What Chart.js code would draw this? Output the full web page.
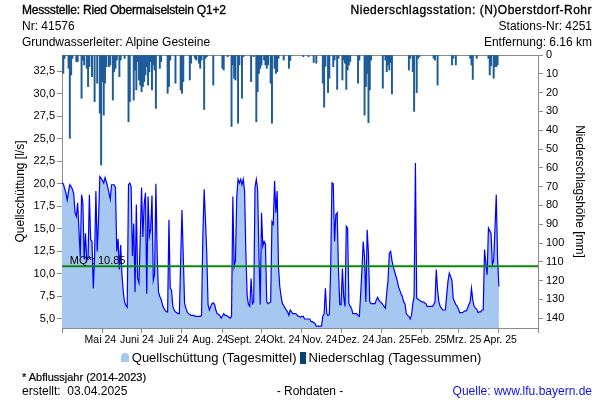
<!DOCTYPE html>
<html lang="de">
<head>
  <meta charset="UTF-8" />
  <title>Quellschüttung Ried Obermaiselstein Q1+2</title>
  <!-- Chart.js CDN -->
  <script src="https://cdn.jsdelivr.net/npm/chart.js@4"></script>
  <style>
    body { margin: 0; background: #fff; font-family: "Liberation Sans", Arial, sans-serif; }
    #wrap { position: relative; width: 600px; height: 400px; }
    #chart { position: absolute; left: 0; top: 0; }
    .t { position: absolute; font-size: 12px; line-height: 14px; color: #000; white-space: nowrap; }
    .r { right: 8px; text-align: right; }
    .h1 { -webkit-text-stroke: 0.35px #000; }
    .mtn { display: inline-block; width: 8px; height: 9px; background: #a6c8f0; border-radius: 4px 4px 0 0; margin-right: 3px; }
    .sq { display: inline-block; width: 6px; height: 12px; background: #0b3f78; vertical-align: -2px; margin: 0 3px 0 3px; }
  </style>
</head>
<body>
<div id="wrap">
  <canvas id="chart" width="600" height="400"></canvas>

  <!-- Kopfzeilen -->
  <div class="t h1" style="left:22px;top:3px;letter-spacing:-0.2px">Messstelle: Ried Obermaiselstein Q1+2</div>
  <div class="t" style="left:22px;top:19px">Nr: 41576</div>
  <div class="t" style="left:22px;top:35px">Grundwasserleiter: Alpine Gesteine</div>
  <div class="t r h1" style="top:3px;letter-spacing:0.5px">Niederschlagsstation: (N)Oberstdorf-Rohr</div>
  <div class="t r" style="top:19px">Stations-Nr: 4251</div>
  <div class="t r" style="top:35px">Entfernung: 6.16 km</div>

  <!-- Legende + Fußzeilen -->
  <div class="t" style="left:0;width:602px;top:351px;text-align:center;font-size:13px">
    <span class="mtn"></span>Quellschüttung (Tagesmittel)<span class="sq"></span>Niederschlag (Tagessummen)
  </div>
  <div class="t h1" style="left:22px;top:370px;font-size:11px;-webkit-text-stroke:0.2px #000">* Abflussjahr (2014-2023)</div>
  <div class="t" style="left:22px;top:384px">erstellt:&nbsp; 03.04.2025</div>
  <div class="t" style="left:0;width:620px;top:384px;text-align:center">- Rohdaten -</div>
  <div class="t r" style="top:384px;color:#1010ee">Quelle: www.lfu.bayern.de</div>
</div>

<script>
  // Monatsachse (Tag 0 = 1. Mai 2024)
  const monthStarts = [0, 31, 61, 92, 123, 153, 184, 214, 245, 276, 304, 335, 365];
  const monthLabels = ["Mai 24", "Juni 24", "Juli 24", "Aug. 24", "Sept. 24", "Okt. 24",
                       "Nov. 24", "Dez. 24", "Jan. 25", "Feb. 25", "Mrz. 25", "Apr. 25"];
  const leftTicks = [5, 7.5, 10, 12.5, 15, 17.5, 20, 22.5, 25, 27.5, 30, 32.5];
  const rightTicks = [0, 10, 20, 30, 40, 50, 60, 70, 80, 90, 100, 110, 120, 130, 140];

  // mittlere Quellschüttung MQ* [l/s]
  const mq = 10.85;

  // Quellschüttung Tagesmittel [l/s], ab 01.05.2024
  const discharge = [
    // Mai
    20.1, 20.0, 19.5, 19.0, 18.2, 19.2, 19.9, 19.7, 19.4, 18.9, 16.8, 16.4, 17.9, 14.9, 11.9, 18.8,
    17.9, 11.6, 14.5, 11.5, 11.9, 18.8, 13.8, 13.6, 8.4, 12.0, 19.2, 12.5, 16.0, 20.8, 20.6,
    // Juni
    20.4, 20.1, 20.7, 20.2, 19.7, 19.0, 18.3, 19.9, 19.9, 19.9, 19.6, 12.5, 13.9, 10.5, 13.2,
    9.9, 8.0, 6.9, 6.5, 6.3, 19.9, 20.1, 19.7, 12.0, 15.6, 8.0, 17.7, 9.5, 9.0, 14.0,
    // Juli
    19.6, 14.1, 17.7, 19.0, 7.8, 18.6, 14.2, 15.0, 18.7, 9.3, 10.0, 20.0, 12.0, 8.0, 7.5, 7.2,
    6.6, 6.2, 6.0, 5.8, 5.8, 16.0, 8.4, 8.2, 6.4, 6.0, 5.8, 5.7, 5.6, 5.6, 11.5,
    // Aug.
    17.1, 11.9, 6.7, 6.2, 5.8, 5.6, 5.5, 5.4, 5.4, 5.4, 5.3, 5.3, 5.3, 5.3, 5.3, 5.4,
    14.2, 19.4, 16.0, 12.3, 6.6, 6.0, 6.4, 6.7, 6.8, 6.6, 6.0, 5.6, 5.5, 5.4, 5.1,
    // Sept.
    5.3, 5.6, 5.4, 5.4, 5.3, 5.2, 5.1, 5.3, 18.6, 10.8, 11.5, 18.6, 20.5, 20.1, 20.5,
    19.9, 20.5, 19.2, 12.3, 7.5, 6.6, 6.4, 9.5, 6.7, 6.9, 19.6, 20.5, 19.4, 12.3, 6.6,
    // Okt.
    16.8, 13.1, 13.6, 13.3, 6.9, 6.7, 6.8, 6.9, 15.8, 15.5, 20.3, 16.8, 19.2, 10.8, 8.6, 7.5,
    6.7, 6.5, 6.2, 6.0, 5.8, 5.4, 6.0, 5.8, 5.6, 5.6, 5.6, 5.5, 5.3, 5.3, 5.2,
    // Nov.
    5.3, 5.3, 5.0, 5.0, 5.0, 5.0, 5.0, 4.7, 4.7, 4.6, 4.5, 4.2, 4.2, 4.2, 4.2,
    4.2, 5.3, 5.6, 8.4, 5.6, 5.4, 5.5, 10.5, 20.1, 20.0, 13.6, 16.6, 16.8, 10.5, 6.6,
    // Dez.
    6.6, 10.6, 7.5, 6.4, 15.3, 15.1, 6.7, 6.4, 6.2, 5.6, 5.6, 5.6, 5.6, 5.4, 5.3, 7.7,
    10.5, 13.6, 11.8, 6.9, 14.9, 12.3, 6.9, 6.7, 6.7, 6.7, 6.7, 7.1, 7.4, 7.1, 6.9,
    // Jan.
    6.8, 6.6, 6.4, 6.2, 7.9, 9.3, 12.3, 12.5, 11.5, 10.8, 10.3, 9.8, 9.3, 8.6, 8.2, 7.8,
    7.5, 6.9, 6.7, 5.6, 5.4, 5.3, 5.0, 5.4, 6.7, 7.5, 22.3, 7.3, 7.2, 7.1, 7.0,
    // Feb.
    6.9, 6.9, 6.8, 6.7, 6.4, 6.4, 6.4, 6.4, 6.4, 6.6, 6.9, 10.5, 8.2, 6.9,
    6.4, 6.2, 6.0, 6.0, 6.0, 7.7, 9.2, 10.1, 9.7, 9.3, 7.3, 6.9, 6.6, 6.4,
    // Mrz.
    6.1, 5.7, 5.7, 5.7, 5.8, 5.9, 5.9, 6.2, 6.6, 6.9, 8.4, 7.1, 6.4, 6.2, 6.1, 5.7,
    5.8, 5.8, 6.0, 6.0, 12.7, 11.2, 9.9, 15.1, 14.8, 14.5, 11.0, 11.5, 15.0, 18.8, 11.7,
    // Apr.
    8.6
  ];

  // Niederschlag Tagessummen [mm]: [Tag, mm]
  const precipitation = [
    [1, 9.8], [2, 1.8], [5, 7.1], [6, 44.3], [7, 10.6], [8, 1.8], [11, 3.5], [12, 3.5],
    [15, 23], [16, 2.7], [17, 5.3], [19, 7.1], [20, 16.8], [21, 6.2], [23, 11.5], [25, 24.8],
    [27, 15], [29, 31], [30, 58.5], [31, 14.2], [32, 32], [33, 15], [34, 6.2], [36, 6.2],
    [37, 5.3], [39, 24], [40, 8.9], [41, 7.1], [42, 2.7], [44, 11.5], [45, 2.7], [48, 1.8],
    [51, 35.5], [52, 24.8], [55, 24], [56, 8], [57, 18.6], [58, 3.5], [59, 13.3], [60, 16],
    [61, 19.5], [62, 16.8], [63, 14.2], [64, 10.6], [65, 6.2], [66, 16], [67, 8.9], [68, 3.5],
    [69, 18.6], [70, 5.3], [71, 8], [72, 28.4], [75, 7.1], [76, 3.5], [81, 20.4], [82, 16.8],
    [83, 2.7], [87, 15], [91, 18.6], [92, 20.4], [93, 14.2], [98, 13.3], [99, 4.4], [102, 1.8],
    [103, 2.7], [105, 4.4], [106, 7.1], [107, 2.7], [109, 29], [110, 1.8], [111, 0.9], [116, 16],
    [123, 7.1], [124, 8], [127, 0.9], [130, 38], [131, 5.3], [132, 12.4], [133, 13.3], [135, 36.3],
    [136, 5.3], [138, 23], [139, 0.9], [145, 14.2], [147, 0.9], [149, 35.5], [150, 19.5], [151, 9.8],
    [152, 7.1], [153, 5.3], [155, 2.7], [156, 5.3], [157, 7.1], [158, 5.3], [160, 15], [161, 36.3],
    [163, 7.1], [164, 9.8], [165, 8.9], [166, 1.8], [170, 2.7], [174, 7.1], [175, 3], [185, 0.9],
    [189, 0.9], [193, 4], [195, 4.4], [200, 15], [201, 27.8], [202, 6], [204, 20], [205, 12.4],
    [208, 6.2], [209, 2.7], [211, 18.3], [212, 1.8], [215, 13.3], [216, 2.7], [217, 4.4], [218, 18.3],
    [219, 8], [220, 5.3], [221, 3.5], [227, 15], [228, 2.7], [232, 32], [233, 16.8], [234, 9.8],
    [235, 36], [236, 18.6], [237, 2.7], [246, 17.7], [248, 2.7], [249, 8.9], [250, 5.3], [251, 8],
    [252, 4], [253, 20.7], [266, 8], [267, 1.8], [269, 8.9], [270, 30], [272, 20], [273, 1.8],
    [274, 0.9], [285, 1.8], [286, 2.7], [288, 16], [299, 5.3], [300, 1.8], [302, 5.3], [313, 1.8],
    [314, 5.3], [315, 13], [318, 1.8], [327, 1.8], [328, 10.6], [329, 5.8], [331, 12.4], [332, 6.2],
    [333, 6.2], [334, 5.3]
  ];

  const monthMids = monthLabels.map((_, i) => (monthStarts[i] + monthStarts[i + 1]) / 2);
  const FONT = '"Liberation Sans", Arial, sans-serif';
  const GRAY = '#8c8c8c';

  // MQ-Beschriftung und obere Rahmenlinie
  const extras = {
    id: 'extras',
    beforeDatasetsDraw(chart) {
      const { ctx, chartArea } = chart;
      ctx.save();
      ctx.strokeStyle = GRAY;
      ctx.lineWidth = 1;
      ctx.beginPath();
      ctx.moveTo(chartArea.left, chartArea.top + 0.5);
      ctx.lineTo(chartArea.right, chartArea.top + 0.5);
      ctx.stroke();
      ctx.restore();
    },
    afterDatasetsDraw(chart) {
      const { ctx, scales: { x, y } } = chart;
      ctx.save();
      ctx.font = '11px ' + FONT;
      ctx.fillStyle = '#000';
      ctx.textBaseline = 'alphabetic';
      ctx.fillText('MQ*: ' + mq.toFixed(2), x.getPixelForValue(6), y.getPixelForValue(mq) - 2);
      ctx.restore();
    }
  };

  new Chart(document.getElementById('chart'), {
    type: 'bar',
    data: {
      datasets: [
        {
          type: 'line',
          label: 'MQ*',
          data: [{ x: 0, y: mq }, { x: 365, y: mq }],
          borderColor: '#0a8a0a',
          borderWidth: 2,
          pointRadius: 0,
          xAxisID: 'x', yAxisID: 'y',
          order: 0
        },
        {
          type: 'bar',
          label: 'Niederschlag (Tagessummen)',
          data: precipitation.map(p => ({ x: p[0], y: p[1] })),
          backgroundColor: '#1d5c98',
          barPercentage: 1,
          categoryPercentage: 1,
          xAxisID: 'x', yAxisID: 'yR',
          order: 1
        },
        {
          type: 'line',
          label: 'Quellschüttung (Tagesmittel)',
          data: discharge.map((v, i) => ({ x: i, y: v })),
          borderColor: '#0000ff',
          borderWidth: 1.2,
          backgroundColor: '#a6c8f0',
          fill: 'start',
          pointRadius: 0,
          tension: 0,
          xAxisID: 'x', yAxisID: 'y',
          order: 2
        }
      ]
    },
    options: {
      responsive: false,
      animation: false,
      layout: { padding: { top: 55, bottom: 52, left: 0, right: 0 } },
      plugins: { legend: { display: false }, tooltip: { enabled: false } },
      scales: {
        x: {
          type: 'linear', position: 'bottom', min: 0, max: 365, offset: false, weight: 0,
          grid: { drawOnChartArea: false, drawTicks: true, tickLength: 5, color: GRAY, offset: false },
          border: { color: GRAY },
          ticks: { display: false },
          afterBuildTicks: s => { s.ticks = monthStarts.map(v => ({ value: v })); },
          afterFit: s => { s.height = 5; }
        },
        x2: {
          type: 'linear', position: 'bottom', min: 0, max: 365, weight: 1,
          grid: { display: false, drawTicks: false },
          border: { display: false },
          ticks: {
            autoSkip: false, maxRotation: 0, padding: 1, color: '#000',
            font: { size: 10.5, family: FONT },
            callback: (v, i) => monthLabels[i]
          },
          afterBuildTicks: s => { s.ticks = monthMids.map(v => ({ value: v })); },
          afterFit: s => { s.height = 15; }
        },
        y: {
          position: 'left', min: 4, max: 34.3,
          grid: { drawOnChartArea: false, tickLength: 5, color: GRAY },
          border: { color: GRAY },
          ticks: {
            padding: 2, color: '#000', font: { size: 11, family: FONT },
            callback: v => v.toFixed(1).replace('.', ',')
          },
          afterBuildTicks: s => { s.ticks = leftTicks.map(v => ({ value: v })); },
          title: { display: true, text: 'Quellschüttung [l/s]', color: '#000',
                   font: { size: 12, family: FONT }, padding: { top: 13, bottom: 0 } },
          afterFit: s => { s.width = 62; }
        },
        yR: {
          position: 'right', reverse: true, min: 0, max: 145.2,
          grid: { drawOnChartArea: false, tickLength: 5, color: GRAY },
          border: { color: GRAY },
          ticks: { padding: 3, color: '#000', font: { size: 11, family: FONT } },
          afterBuildTicks: s => { s.ticks = rightTicks.map(v => ({ value: v })); },
          title: { display: true, text: 'Niederschlagshöhe [mm]', color: '#000',
                   font: { size: 12, family: FONT }, padding: { top: 13, bottom: 0 } },
          afterFit: s => { s.width = 62; }
        }
      }
    },
    plugins: [extras]
  });
</script>
</body>
</html>
